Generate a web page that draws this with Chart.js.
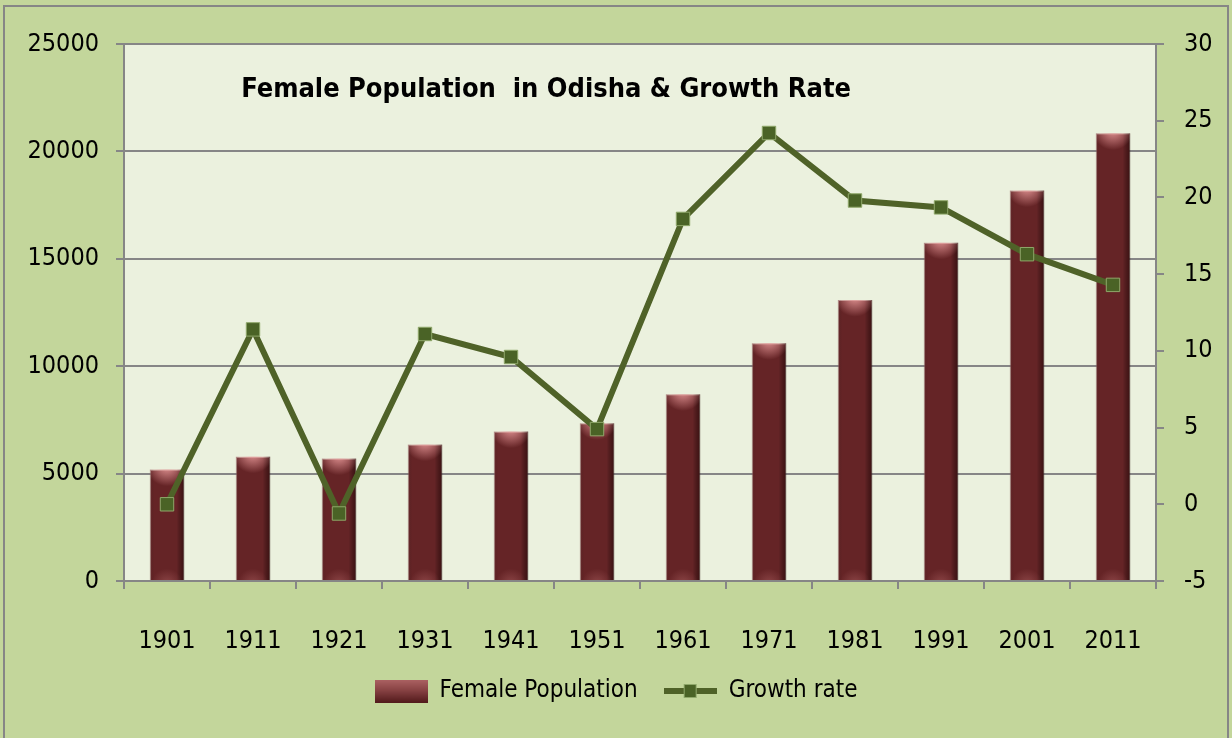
<!DOCTYPE html>
<html>
<head>
<meta charset="utf-8">
<script src="https://cdn.jsdelivr.net/npm/chart.js@4.4.1/dist/chart.umd.min.js"></script>
<style>
  html, body { margin: 0; padding: 0; background: #c3d69b; }
  #wrap { width: 1232px; height: 738px; }
</style>
</head>
<body>
<div id="wrap"><canvas id="grafico" width="1232" height="738"></canvas></div>
<script>
// ===== DADOS =====
const anos = ["1901", "1911", "1921", "1931", "1941", "1951", "1961", "1971", "1981", "1991", "2001", "2011"];
const populacaoFeminina = [5190, 5790, 5700, 6350, 6960, 7340, 8690, 11070, 13080, 15750, 18180, 20840];
const taxaCrescimento = [0, 11.4, -0.6, 11.1, 9.6, 4.9, 18.6, 24.2, 19.8, 19.35, 16.3, 14.3];
const ticksPopulacao = [0, 5000, 10000, 15000, 20000, 25000];
const ticksTaxa = [-5, 0, 5, 10, 15, 20, 25, 30];

const titulo = "Female Population  in Odisha & Growth Rate";
const FONTE = "'Liberation Sans Narrow', 'DejaVu Sans Condensed', 'Open Sans', sans-serif";

const VERDE_FUNDO = "#c3d69b";
const VERDE_AREA = "#ebf1de";
const CINZA = "#868686";
const BORDO = "#652426";
const OLIVA = "#4f6228";

// ===== AMOSTRAS DA LEGENDA =====
function amostraBarra() {
  const c = document.createElement("canvas");
  c.width = 53; c.height = 23;
  const g = c.getContext("2d");
  g.fillStyle = BORDO;
  g.fillRect(0, 0, 53, 23);
  const v = g.createLinearGradient(0, 0, 0, 23);
  v.addColorStop(0, "rgba(220,140,140,0.6)");
  v.addColorStop(0.45, "rgba(220,140,140,0.3)");
  v.addColorStop(1, "rgba(40,5,5,0.3)");
  g.fillStyle = v;
  g.fillRect(0, 0, 53, 23);
  return c;
}

function amostraLinha() {
  const c = document.createElement("canvas");
  c.width = 53; c.height = 16;
  const g = c.getContext("2d");
  g.strokeStyle = OLIVA;
  g.lineWidth = 6;
  g.beginPath(); g.moveTo(0, 8); g.lineTo(53, 8); g.stroke();
  g.fillStyle = "#4a6326";
  g.fillRect(20, 1, 13, 14);
  g.strokeStyle = "#8fa86a";
  g.lineWidth = 1;
  g.strokeRect(20.5, 1.5, 12, 13);
  return c;
}

// ===== PLUGINS =====
const fundo = {
  id: "fundo",
  beforeDraw(chart) {
    const { ctx, chartArea: a } = chart;
    ctx.save();
    ctx.fillStyle = VERDE_FUNDO;
    ctx.fillRect(0, 0, chart.width, chart.height);
    ctx.strokeStyle = CINZA;
    ctx.lineWidth = 2;
    ctx.strokeRect(4, 6, chart.width - 8, chart.height + 10);
    ctx.fillStyle = VERDE_AREA;
    ctx.fillRect(a.left, a.top, a.right - a.left, a.bottom - a.top);
    ctx.restore();
  }
};

// brilho das barras, a partir dos elementos que o Chart.js calculou
const brilhoBarras = {
  id: "brilhoBarras",
  afterDatasetDraw(chart, args) {
    if (args.index !== 0) return;
    const { ctx } = chart;
    ctx.save();
    args.meta.data.forEach(el => {
      const { x, y, base, width } = el.getProps(["x", "y", "base", "width"], true);
      const l = x - width / 2, h = base - y;
      const hz = ctx.createLinearGradient(l, 0, l + width, 0);
      hz.addColorStop(0, "rgba(150,90,90,0.25)");
      hz.addColorStop(0.12, "rgba(0,0,0,0)");
      hz.addColorStop(0.78, "rgba(0,0,0,0)");
      hz.addColorStop(1, "rgba(25,0,0,0.55)");
      ctx.fillStyle = hz;
      ctx.fillRect(l, y, width, h);
      const topo = ctx.createRadialGradient(x, y - 4, 2, x, y - 4, width * 0.6);
      topo.addColorStop(0, "rgba(240,160,160,0.85)");
      topo.addColorStop(1, "rgba(240,160,160,0)");
      ctx.fillStyle = topo;
      ctx.fillRect(l, y, width, Math.min(h, width * 0.55));
      const pe = ctx.createRadialGradient(x, base + 4, 2, x, base + 4, width * 0.45);
      pe.addColorStop(0, "rgba(200,120,120,0.35)");
      pe.addColorStop(1, "rgba(200,120,120,0)");
      ctx.fillStyle = pe;
      ctx.fillRect(l, base - width * 0.4, width, width * 0.4);
    });
    ctx.restore();
  }
};

const tituloInterno = {
  id: "tituloInterno",
  afterDraw(chart) {
    const { ctx, chartArea: a } = chart;
    ctx.save();
    ctx.font = "bold 27px " + FONTE;
    ctx.fillStyle = "#000";
    ctx.textAlign = "center";
    ctx.textBaseline = "alphabetic";
    ctx.fillText(titulo, a.left + (a.right - a.left) * 0.409, a.top + 53);
    ctx.restore();
  }
};

// ===== GRÁFICO =====
const ctx = document.getElementById("grafico").getContext("2d");
const fonteEixo = { family: FONTE, size: 25 };

new Chart(ctx, {
  type: "bar",
  data: {
    labels: anos,
    datasets: [
      {
        type: "bar",
        label: "Female Population",
        data: populacaoFeminina,
        yAxisID: "y",
        backgroundColor: BORDO,
        borderColor: "rgba(140,100,100,0.6)",
        borderWidth: 1,
        barPercentage: 0.4,
        categoryPercentage: 1,
        order: 1,
      },
      {
        type: "line",
        label: "Growth rate",
        data: taxaCrescimento,
        yAxisID: "y1",
        borderColor: OLIVA,
        borderWidth: 6,
        pointStyle: "rect",
        pointRadius: 9.5,
        pointBackgroundColor: "#4a6326",
        pointBorderColor: "#8fa86a",
        pointBorderWidth: 1,
        tension: 0,
        order: 0,
      },
    ],
  },
  options: {
    responsive: false,
    devicePixelRatio: 1,
    animation: false,
    layout: { padding: { top: 44, left: 0, right: 0, bottom: 25 } },
    plugins: {
      title: { display: false },
      tooltip: { enabled: false },
      legend: {
        position: "bottom",
        labels: {
          color: "#000",
          font: { family: FONTE, size: 24 },
          usePointStyle: true,
          pointStyleWidth: 53,
          boxHeight: 23,
          padding: 26,
          sort: (a, b) => a.datasetIndex - b.datasetIndex,
          generateLabels: (chart) => {
            const itens = Chart.defaults.plugins.legend.labels.generateLabels(chart);
            itens.forEach(it => {
              it.pointStyle = it.datasetIndex === 0 ? amostraBarra() : amostraLinha();
            });
            return itens;
          },
        },
      },
    },
    scales: {
      x: {
        grid: { drawOnChartArea: false, offset: true, color: CINZA, lineWidth: 2, tickLength: 8 },
        border: { color: CINZA, width: 2 },
        ticks: { color: "#000", font: fonteEixo, padding: 37, maxRotation: 0 },
        afterFit: (s) => { s.height = 72; },
      },
      y: {
        position: "left",
        min: 0,
        max: 25000,
        afterBuildTicks: (s) => { s.ticks = ticksPopulacao.map(v => ({ value: v })); },
        ticks: { color: "#000", font: fonteEixo, padding: 17, callback: (v) => String(v) },
        grid: { color: CINZA, lineWidth: 2, tickLength: 8 },
        border: { color: CINZA, width: 2 },
        afterFit: (s) => { s.width = 124; },
      },
      y1: {
        position: "right",
        min: -5,
        max: 30,
        afterBuildTicks: (s) => { s.ticks = ticksTaxa.map(v => ({ value: v })); },
        ticks: { color: "#000", font: fonteEixo, padding: 20, callback: (v) => String(v) },
        grid: { drawOnChartArea: false, color: CINZA, lineWidth: 2, tickLength: 8 },
        border: { color: CINZA, width: 2 },
        afterFit: (s) => { s.width = 76; },
      },
    },
  },
  plugins: [fundo, brilhoBarras, tituloInterno],
});
</script>
</body>
</html>
